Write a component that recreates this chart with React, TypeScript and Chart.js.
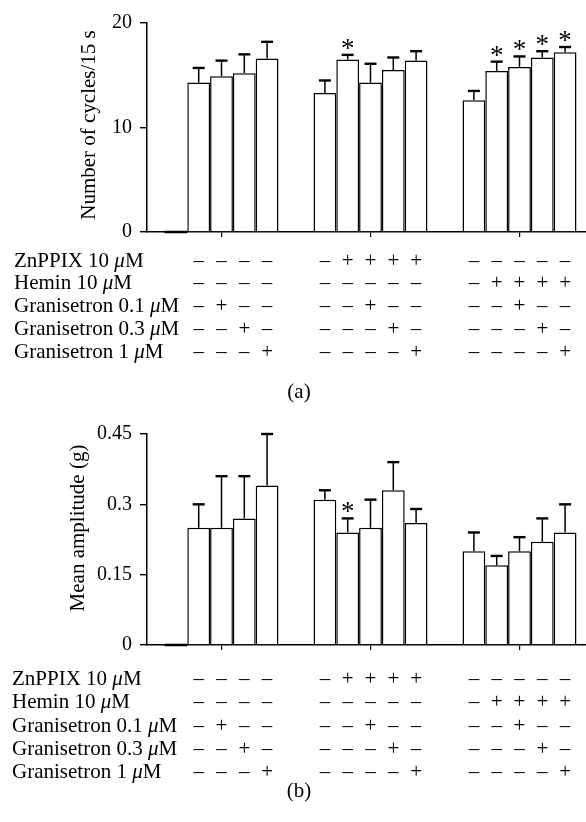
import React, { useEffect, useRef } from 'react';
import { Chart, registerables } from 'chart.js';

Chart.register(...registerables);

// groups: control, ZnPPIX 10 μM, hemin 10 μM ; five bars per group
const groupLabels = ['Control', 'ZnPPIX', 'Hemin'];

// Panel (a): number of cycles / 15 s  (bar position k within each group)
const cyclesBar1 = [0, 13.3, 12.6];
const cyclesBar2 = [14.3, 16.5, 15.4];
const cyclesBar3 = [14.9, 14.3, 15.8];
const cyclesBar4 = [15.2, 15.5, 16.7];
const cyclesBar5 = [16.6, 16.4, 17.2];
const cyclesErr1 = [0, 1.2, 0.9];
const cyclesErr2 = [1.4, 0.45, 0.9];
const cyclesErr3 = [1.5, 1.8, 1.0];
const cyclesErr4 = [1.8, 1.2, 0.6];
const cyclesErr5 = [1.6, 0.9, 0.5];
const cyclesStar1 = [false, false, false];
const cyclesStar2 = [false, true, true];
const cyclesStar3 = [false, false, true];
const cyclesStar4 = [false, false, true];
const cyclesStar5 = [false, false, true];
const cyclesTicks = [0, 10, 20];

// Panel (b): mean amplitude (g)
const ampBar1 = [0, 0.31, 0.2];
const ampBar2 = [0.25, 0.24, 0.17];
const ampBar3 = [0.25, 0.25, 0.2];
const ampBar4 = [0.27, 0.33, 0.22];
const ampBar5 = [0.34, 0.26, 0.24];
const ampErr1 = [0, 0.02, 0.04];
const ampErr2 = [0.05, 0.03, 0.02];
const ampErr3 = [0.11, 0.06, 0.03];
const ampErr4 = [0.09, 0.06, 0.05];
const ampErr5 = [0.11, 0.03, 0.06];
const ampStar1 = [false, false, false];
const ampStar2 = [false, true, false];
const ampStar3 = [false, false, false];
const ampStar4 = [false, false, false];
const ampStar5 = [false, false, false];
const ampTicks = [0, 0.15, 0.3, 0.45];

// treatment table (index = group*5 + bar)
const rowLabels = [
  ['ZnPPIX 10 ', 'μ', 'M'],
  ['Hemin 10 ', 'μ', 'M'],
  ['Granisetron 0.1 ', 'μ', 'M'],
  ['Granisetron 0.3 ', 'μ', 'M'],
  ['Granisetron 1 ', 'μ', 'M'],
];
const signZnPPIX = ['', '–', '–', '–', '–', '–', '+', '+', '+', '+', '–', '–', '–', '–', '–'];
const signHemin = ['', '–', '–', '–', '–', '–', '–', '–', '–', '–', '–', '+', '+', '+', '+'];
const signGran01 = ['', '–', '+', '–', '–', '–', '–', '+', '–', '–', '–', '–', '+', '–', '–'];
const signGran03 = ['', '–', '–', '+', '–', '–', '–', '–', '+', '–', '–', '–', '–', '+', '–'];
const signGran1 = ['', '–', '–', '–', '+', '–', '–', '–', '–', '+', '–', '–', '–', '–', '+'];
const signRows = [signZnPPIX, signHemin, signGran01, signGran03, signGran1];

const SERIF = "'Liberation Serif', 'Times New Roman', serif";

type PanelProps = {
  top: number;
  height: number;
  means: number[][];
  errs: number[][];
  stars: boolean[][];
  ticks: number[];
  yTitle: string;
  titleX: number;
  titleY: number;
  padTop: number;
  areaBottom: number;
  rowBase: number[];
  labelX: number;
  caption: string;
  captionY: number;
};

function Panel(p: PanelProps) {
  const ref = useRef<HTMLCanvasElement | null>(null);
  useEffect(() => {
    const canvas = ref.current;
    if (!canvas) return;
    const yMin = p.ticks[0];
    const yMax = p.ticks[p.ticks.length - 1];
    const step = p.ticks[1] - p.ticks[0];

    const overlay = {
      id: 'overlay',
      afterDatasetsDraw(chart: any) {
        const ctx = chart.ctx;
        const ys = chart.scales.y;
        ctx.save();
        ctx.strokeStyle = '#000';
        ctx.fillStyle = '#000';
        p.means.forEach((series, di) => {
          const meta = chart.getDatasetMeta(di);
          meta.data.forEach((el: any, gi: number) => {
            const m = series[gi];
            const e = p.errs[di][gi];
            if (m === 0) {
              ctx.lineWidth = 2.5;
              ctx.beginPath();
              ctx.moveTo(el.x - el.width / 2, ys.getPixelForValue(0));
              ctx.lineTo(el.x + el.width / 2, ys.getPixelForValue(0));
              ctx.stroke();
              return;
            }
            const yb = ys.getPixelForValue(m);
            const yt = ys.getPixelForValue(m + e);
            ctx.lineWidth = 1.5;
            ctx.beginPath();
            ctx.moveTo(el.x, yb);
            ctx.lineTo(el.x, yt);
            ctx.stroke();
            ctx.lineWidth = 2.4;
            ctx.beginPath();
            ctx.moveTo(el.x - 6, yt);
            ctx.lineTo(el.x + 6, yt);
            ctx.stroke();
            if (p.stars[di][gi]) {
              ctx.font = `27px ${SERIF}`;
              ctx.textAlign = 'center';
              ctx.textBaseline = 'alphabetic';
              ctx.fillText('*', el.x, yt + 2);
            }
          });
        });
        ctx.restore();
      },
      afterDraw(chart: any) {
        const ctx = chart.ctx;
        ctx.save();
        ctx.fillStyle = '#000';
        // y-axis title
        ctx.save();
        ctx.translate(p.titleX, p.titleY);
        ctx.rotate(-Math.PI / 2);
        ctx.font = `21px ${SERIF}`;
        ctx.textAlign = 'center';
        ctx.textBaseline = 'middle';
        ctx.fillText(p.yTitle, 0, 0);
        ctx.restore();

        ctx.textBaseline = 'alphabetic';
        const up = `21px ${SERIF}`;
        const it = `italic 21px ${SERIF}`;
        rowLabels.forEach((parts, r) => {
          const y = p.rowBase[r];
          let x = p.labelX;
          ctx.textAlign = 'left';
          parts.forEach((t, k) => {
            ctx.font = k === 1 ? it : up;
            ctx.fillText(t, x, y);
            x += ctx.measureText(t).width;
          });
          ctx.font = up;
          ctx.textAlign = 'center';
          signRows[r].forEach((s, idx) => {
            if (!s) return;
            const g = Math.floor(idx / 5);
            const b = idx % 5;
            const el = chart.getDatasetMeta(b).data[g];
            ctx.fillText(s, el.x, y);
          });
        });
        ctx.font = `21px ${SERIF}`;
        ctx.textAlign = 'center';
        ctx.fillText(p.caption, 299, p.captionY);
        ctx.restore();
      },
    };

    const chart = new Chart(canvas, {
      type: 'bar',
      data: {
        labels: groupLabels,
        datasets: p.means.map((d, i) => ({
          label: 'bar ' + (i + 1),
          data: d,
          backgroundColor: '#ffffff',
          borderColor: '#000000',
          borderWidth: 1.5,
          borderSkipped: 'start',
          categoryPercentage: 0.765,
          barPercentage: 1,
        })),
      },
      options: {
        animation: false,
        responsive: false,
        maintainAspectRatio: false,
        layout: { padding: { top: p.padTop, right: 6, left: 0, bottom: 0 } },
        plugins: { legend: { display: false }, tooltip: { enabled: false } },
        scales: {
          x: {
            ticks: { display: false },
            grid: { offset: false, drawOnChartArea: false, drawTicks: true, tickLength: 5, color: '#000', lineWidth: 1.2 },
            border: { display: true, color: '#000', width: 1.5 },
            afterFit: (s: any) => {
              s.height = p.height - p.areaBottom;
            },
          },
          y: {
            min: yMin,
            max: yMax,
            ticks: {
              stepSize: step,
              color: '#000',
              padding: 8,
              font: { family: SERIF, size: 20 },
              callback: (v: any) => String(Number(Number(v).toFixed(2))),
            },
            grid: { drawOnChartArea: false, drawTicks: true, tickLength: 7, color: '#000', lineWidth: 1.4 },
            border: { display: true, color: '#000', width: 1.5 },
            title: { display: false },
            afterFit: (s: any) => {
              s.width = 147;
            },
          },
        },
      },
      plugins: [overlay],
    } as any);
    return () => chart.destroy();
  }, []);
  return (
    <canvas
      ref={ref}
      width={600}
      height={p.height}
      style={{ position: 'absolute', left: 0, top: p.top, width: 600, height: p.height }}
    />
  );
}

export default function App() {
  return (
    <div
      style={{
        position: 'fixed',
        left: 0,
        top: 0,
        width: 586,
        height: 822,
        overflow: 'hidden',
        background: '#fff',
      }}
    >
      <Panel
        top={0}
        height={410}
        means={[cyclesBar1, cyclesBar2, cyclesBar3, cyclesBar4, cyclesBar5]}
        errs={[cyclesErr1, cyclesErr2, cyclesErr3, cyclesErr4, cyclesErr5]}
        stars={[cyclesStar1, cyclesStar2, cyclesStar3, cyclesStar4, cyclesStar5]}
        ticks={cyclesTicks}
        yTitle="Number of cycles/15 s"
        titleX={89}
        titleY={125}
        padTop={23}
        areaBottom={232}
        rowBase={[266.5, 289.3, 312.1, 334.9, 357.7]}
        labelX={14}
        caption="(a)"
        captionY={398}
      />
      <Panel
        top={410}
        height={412}
        means={[ampBar1, ampBar2, ampBar3, ampBar4, ampBar5]}
        errs={[ampErr1, ampErr2, ampErr3, ampErr4, ampErr5]}
        stars={[ampStar1, ampStar2, ampStar3, ampStar4, ampStar5]}
        ticks={ampTicks}
        yTitle="Mean amplitude (g)"
        titleX={78.5}
        titleY={118}
        padTop={24}
        areaBottom={235}
        rowBase={[275, 298.3, 321.6, 345, 368.3]}
        labelX={12}
        caption="(b)"
        captionY={387}
      />
    </div>
  );
}
